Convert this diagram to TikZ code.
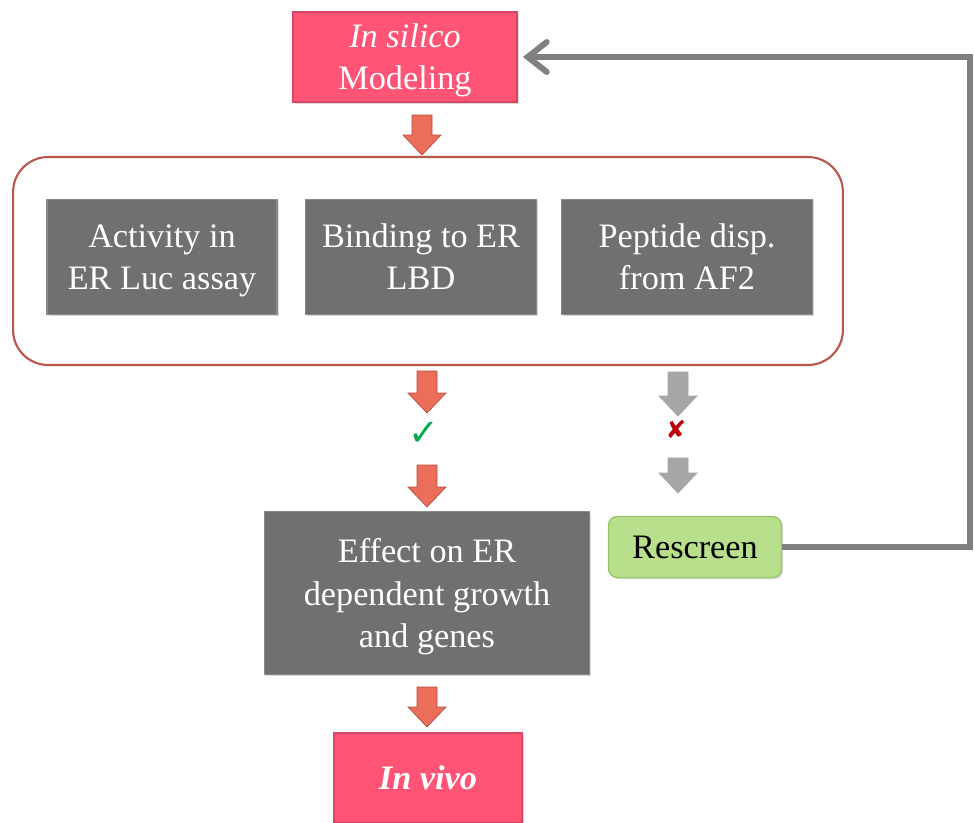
\documentclass[tikz,border=0pt]{standalone}
\usepackage{fontspec}
\setmainfont{Liberation Serif}
\newfontfamily\symbolfont{DejaVu Sans}
\usetikzlibrary{positioning, shapes, arrows.meta, shadows}
\definecolor{pinkbox}{RGB}{255,84,118}
\definecolor{pinkedge}{RGB}{214,70,98}
\definecolor{graybox}{RGB}{112,112,112}
\definecolor{grayedge}{RGB}{138,138,138}
\definecolor{greenbox}{RGB}{184,224,140}
\definecolor{greenedge}{RGB}{150,200,105}
\definecolor{groupedge}{RGB}{185,85,75}
\definecolor{arrowred}{RGB}{234,110,90}
\definecolor{arrowedge}{RGB}{180,78,64}
\definecolor{arrowgray}{RGB}{166,166,166}
\definecolor{linegray}{RGB}{128,128,128}
\definecolor{okgreen}{RGB}{0,170,80}
\definecolor{nored}{RGB}{190,0,10}
\tikzset{
    boxfont/.style = {font=\fontsize{19.5}{24}\selectfont},
    softshadow/.style = {drop shadow={opacity=0.3, shadow xshift=1pt, shadow yshift=-1pt}},
    stage/.style = {rectangle, draw=pinkedge, fill=pinkbox, text=white, thick, text depth=0pt,
                        inner sep=0pt, align=center, boxfont, softshadow},
    assay/.style = {rectangle, draw=grayedge, fill=graybox, text=white, thick, text depth=0pt,
                        inner sep=0pt, align=center, boxfont, softshadow},
    retry/.style = {rectangle, rounded corners=5pt, draw=greenedge, fill=greenbox, thick,
                        inner sep=0pt, align=center, boxfont, softshadow},
    group/.style = {rectangle, rounded corners=0.7cm, draw=groupedge, line width=1.2pt,
                        inner sep=0pt},
    feedback/.style = {draw=linegray, line width=3.4pt,
                        -{Straight Barb[length=0.38cm, width=0.6cm, line cap=round]}},
    pics/downarrow/.style = {code={
        \draw[pic actions] (-10,0) -- (10,0) -- (10,#1-20) -- (19,#1-20) -- (0,#1)
            -- (-19,#1-20) -- (-10,#1-20) -- cycle;
    }}
}
\begin{document}
\begin{tikzpicture}[x=0.02cm, y=-0.02cm]
		\useasboundingbox (0,0) rectangle (974,822);
		% stages
		\node (insilico) [stage, minimum width=4.48cm, minimum height=1.8cm] at (405,57) {\textit{In silico}\\Modeling};
		\node (screen) [group, minimum width=16.6cm, minimum height=4.16cm] at (428,261) {};
		\node (luc) [assay, minimum width=4.6cm, minimum height=2.3cm] at (162,257) {Activity in\\ER Luc assay};
		\node (lbd) [assay, minimum width=4.62cm, minimum height=2.3cm] at (421,257) {Binding to ER\\LBD};
		\node (af2) [assay, minimum width=5.02cm, minimum height=2.3cm] at (687,257) {Peptide disp.\\from AF2};
		\node (growth) [assay, minimum width=6.5cm, minimum height=3.26cm] at (427,593) {Effect on ER\\dependent growth\\and genes};
		\node (rescreen) [retry, text=black, minimum width=3.46cm, minimum height=1.22cm] at (695,547) {Rescreen};
		\node (invivo) [stage, minimum width=3.76cm, minimum height=1.8cm] at (428,778) {\textbf{\textit{In vivo}}};
		% block arrows
		\pic[fill=arrowred, draw=arrowedge] at (422,115) {downarrow=40};
		\pic[fill=arrowred, draw=arrowedge] at (427,371) {downarrow=42};
		\pic[fill=arrowred, draw=arrowedge] at (427,465) {downarrow=42};
		\pic[fill=arrowred, draw=arrowedge] at (427,687) {downarrow=40};
		\pic[fill=arrowgray, draw=arrowgray] at (678,372) {downarrow=44};
		\pic[fill=arrowgray, draw=arrowgray] at (678,458) {downarrow=35};
		\node (ok) [text=okgreen] at (424,434) {\symbolfont\fontsize{21}{21}\selectfont ✓};
		\node (no) [text=nored] at (676,429) {\symbolfont\fontsize{14}{14}\selectfont ✘};
		% loop back
		\coordinate (turn) at (970,300);
		\draw[feedback, shorten >=3pt] (rescreen.east) -| (turn) |- (insilico.east);
	\end{tikzpicture}
\end{document}
